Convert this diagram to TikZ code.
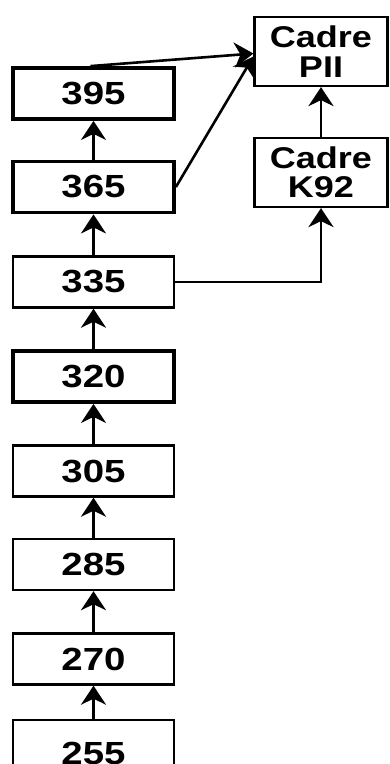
\documentclass[tikz,border=0pt]{standalone}
\usepackage{fontspec}
\newfontfamily\boxfont{Liberation Sans}[FakeStretch=1.2]
\usetikzlibrary{arrows.meta}

\tikzset{
  numbox/.style={draw=black, line width=2.4pt, fill=white,
    minimum width=161pt, minimum height=51pt, inner sep=0pt,
    font=\boxfont\bfseries\fontsize{32}{29}\selectfont},
  heavybox/.style={numbox, line width=3.8pt},
  cadrebox/.style={draw=black, line width=2.2pt, fill=white,
    minimum width=133pt, minimum height=69pt, inner sep=0pt, align=center,
    font=\boxfont\bfseries\fontsize{30}{29.5}\selectfont},
  link/.style={line width=2.6pt,
    -{Stealth[length=19pt, width=25pt, inset=6pt]}}
}

\begin{document}
\begin{tikzpicture}[x=1pt, y=-1pt]
  \useasboundingbox (0,0) rectangle (390,764);

  % main chain of levels
  \node[heavybox] (n395) at (93.5,93.5) {395};
  \node[heavybox] (n365) at (93.5,187) {365};
  \node[numbox]   (n335) at (93.5,282) {335};
  \node[heavybox] (n320) at (93.5,376.5) {320};
  \node[numbox]   (n305) at (93.5,471) {305};
  \node[numbox]   (n285) at (93.5,564.5) {285};
  \node[numbox]   (n270) at (93.5,659) {270};
  \node[numbox, minimum height=66pt] (n255) at (93.5,753) {255};

  % frames on the right
  \node[cadrebox] (pii) at (321,51.5) {Cadre\\PII};
  \node[cadrebox] (k92) at (321,172.5) {Cadre\\K92};

  % upward links
  \draw[link] (n255) -- (n270);
  \draw[link] (n270) -- (n285);
  \draw[link] (n285) -- (n305);
  \draw[link] (n305) -- (n320);
  \draw[link] (n320) -- (n335);
  \draw[link] (n335) -- (n365);
  \draw[link] (n365) -- (n395);
  \draw[link] (k92) -- (pii);

  % links into the frames
  \draw[link] ([xshift=-3pt]n395.north) -- ([yshift=-2pt]pii.west);
  \draw[link] (n365.east) -- ([yshift=-5pt]pii.west);
  \draw[link] (n335.east) -| (k92.south);
\end{tikzpicture}
\end{document}
